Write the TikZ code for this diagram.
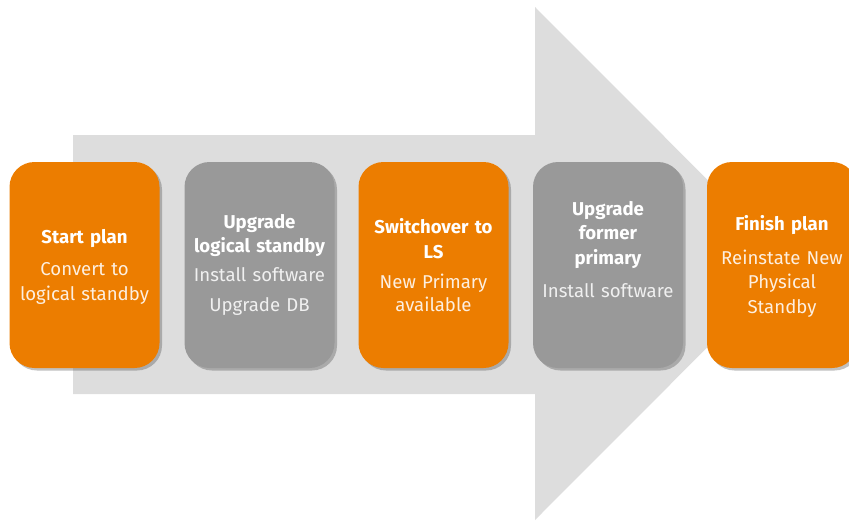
\documentclass[tikz,border=0pt]{standalone}
\usepackage{fontspec}
\setmainfont{Fira Sans}
\usetikzlibrary{shadows}
\definecolor{orng}{HTML}{EC7D00}
\definecolor{boxgrey}{HTML}{999999}
\definecolor{arrowgrey}{HTML}{DDDDDD}
\tikzset{
  stepbox/.style={rounded corners=25pt, minimum width=150pt, minimum height=206pt, inner sep=0pt,
    drop shadow={shadow xshift=2.5pt, shadow yshift=-2.5pt, opacity=0.35, fill=black!70}},
  orangebox/.style={stepbox, fill=orng},
  greybox/.style={stepbox, fill=boxgrey},
  txt/.style={text width=150pt, align=center, text=white, inner sep=0pt,
    font=\fontsize{18.6}{24.5}\selectfont},
}
\newcommand\ttl[1]{\textbf{#1}}
\newcommand\bdo[1]{{\color{white!88!orng}#1}}
\newcommand\bdg[1]{{\color{white!85!boxgrey}#1}}
\begin{document}
\begin{tikzpicture}[x=1pt,y=-1pt]
  \useasboundingbox (0,0) rectangle (849,520);
  \clip (0,0) rectangle (849,520);
  \fill[arrowgrey] (73,135) -- (535,135) -- (535,7) -- (791,263.5) -- (535,520)
     -- (535,394) -- (73,394) -- cycle;
  \node[orangebox] (b1) at (84.5,265) {};
  \node[greybox]   (b2) at (259.5,265) {};
  \node[orangebox] (b3) at (433.5,265) {};
  \node[greybox]   (b4) at (608,265) {};
  \node[orangebox] (b5) at (782,265) {};
  \node[txt] (t1) at (84.5,266.5) {\ttl{Start plan}\\[8pt]\bdo{Convert to}\\\bdo{logical standby}};
  \node[txt] (t2) at (259.5,265) {\ttl{Upgrade}\\\ttl{logical standby}\\[4pt]\bdg{Install software}\\[6pt]\bdg{Upgrade DB}};
  \node[txt] (t3) at (433.5,265) {\ttl{Switchover to}\\\ttl{LS}\\[6pt]\bdo{New Primary}\\[-2pt]\bdo{available}};
  \node[txt] (t4) at (608,249.5) {\ttl{Upgrade}\\\ttl{former}\\\ttl{primary}\\[9pt]\bdg{Install software}};
  \node[txt] (t5) at (782,266.5) {\ttl{Finish plan}\\[9pt]\bdo{Reinstate New}\\\bdo{Physical}\\\bdo{Standby}};
\end{tikzpicture}
\end{document}
